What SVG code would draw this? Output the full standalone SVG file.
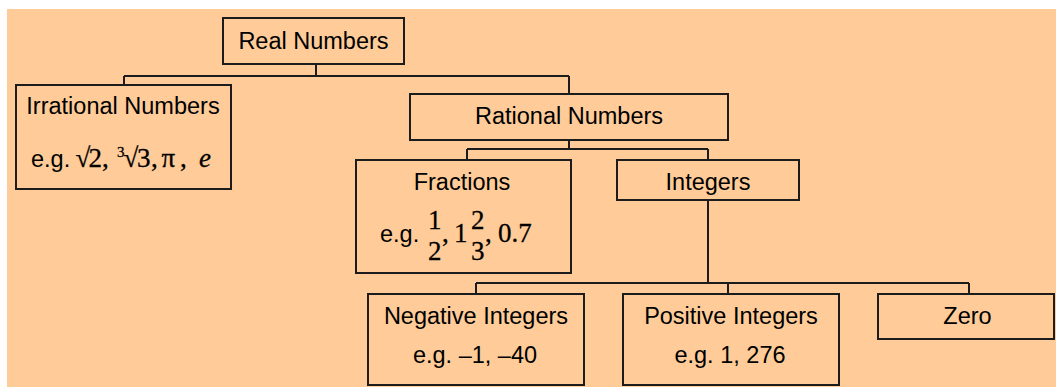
<svg xmlns="http://www.w3.org/2000/svg" width="1056" height="387" viewBox="0 0 1056 387">
<style>
.box{fill:none;stroke:#1c1c1c;stroke-width:2}
.ln{fill:none;stroke:#1c1c1c;stroke-width:2}
.t{font-family:"Liberation Sans",Arial,sans-serif;font-size:23.5px;fill:#000}
.m{font-family:"Liberation Serif","Times New Roman",serif;font-size:27px;fill:#000;stroke:#000;stroke-width:0.3}
.c{text-anchor:middle}
</style>
<rect x="0" y="0" width="1056" height="387" fill="#ffffff"/>
<rect x="7" y="9" width="1049" height="378" fill="#FFCC99"/>
<g id="connectors">
<path class="ln" d="M316 64V76M124 76H569M124 76V85M569 76V94"/>
<path class="ln" d="M569 140V149M467 149H708M467 149V160M708 149V160"/>
<path class="ln" d="M708 200V283M476 283H969M476 283V294M728 283V294M969 283V294"/>
</g>
<g id="real">
<rect class="box" x="223" y="18" width="181" height="46"/>
<text class="t c" x="313.5" y="48.5">Real Numbers</text>
</g>
<g id="irrational">
<rect class="box" x="16" y="85" width="215" height="104"/>
<text class="t c" x="123" y="113.5">Irrational Numbers</text>
<text class="t" x="31" y="167">e.g.</text>
<text class="m" y="167"><tspan x="75.5">√</tspan><tspan x="88.5">2</tspan><tspan x="102">,</tspan><tspan x="117" y="157" font-size="15">3</tspan><tspan x="123.5" y="167">√</tspan><tspan x="137">3</tspan><tspan x="151">,</tspan><tspan x="161.5">π</tspan><tspan x="180">,</tspan><tspan x="199" font-style="italic">e</tspan></text>
</g>
<g id="rational">
<rect class="box" x="410" y="94" width="318" height="46"/>
<text class="t c" x="569" y="123.5">Rational Numbers</text>
</g>
<g id="fractions">
<rect class="box" x="356" y="160" width="215" height="113"/>
<text class="t c" x="462" y="189.5">Fractions</text>
<text class="t" x="380" y="242">e.g.</text>
<text class="m"><tspan x="428" y="229">1</tspan><tspan x="428" y="260">2</tspan><tspan x="442" y="242">,</tspan><tspan x="454" y="242">1</tspan><tspan x="471" y="229">2</tspan><tspan x="471" y="260">3</tspan><tspan x="485" y="242">,</tspan><tspan x="498" y="242">0.7</tspan></text>
</g>
<g id="integers">
<rect class="box" x="617" y="160" width="182" height="40"/>
<text class="t c" x="708" y="189.5">Integers</text>
</g>
<g id="negative">
<rect class="box" x="368" y="294" width="216" height="91"/>
<text class="t c" x="476" y="323.5">Negative Integers</text>
<text class="t c" x="475" y="362.5">e.g. –1, –40</text>
</g>
<g id="positive">
<rect class="box" x="623" y="294" width="216" height="91"/>
<text class="t c" x="731" y="323.5">Positive Integers</text>
<text class="t c" x="730" y="362.5">e.g. 1, 276</text>
</g>
<g id="zero">
<rect class="box" x="878" y="294" width="176" height="45"/>
<text class="t c" x="967.5" y="323.5">Zero</text>
</g>
</svg>
